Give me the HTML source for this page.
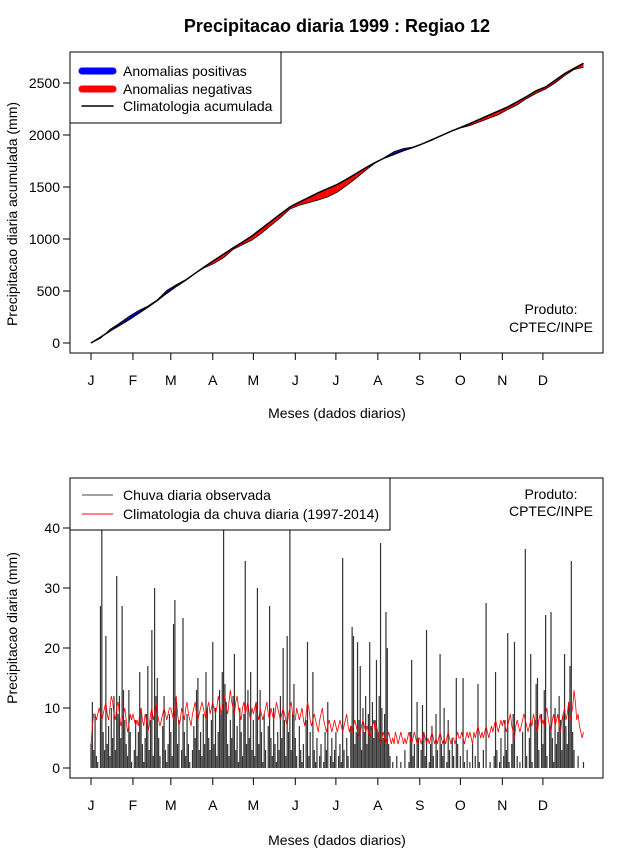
<!DOCTYPE html>
<html><head><meta charset="utf-8"><style>
html,body{margin:0;padding:0;background:#fff;}
svg{display:block;font-family:"Liberation Sans",Arial,sans-serif;}
</style></head><body>
<svg id="c" width="640" height="850" viewBox="0 0 640 850" xmlns="http://www.w3.org/2000/svg">
<rect x="0" y="0" width="640" height="850" fill="#fff"/>
<text x="337" y="32" text-anchor="middle" font-size="18" font-weight="bold">Precipitacao diaria 1999 : Regiao 12</text>
<g id="top"></g>
<g id="bot"></g>
</svg>
<script>
// ---- top panel data (cumulative, mm) ----
const cumDays = [0,7,14,21,28,35,42,49,56,63,70,77,84,91,98,105,112,119,126,133,140,147,154,161,168,175,182,189,196,203,210,217,224,231,238,245,252,259,266,273,280,287,294,301,308,315,322,329,336,343,350,357,364];
const climCum = [0,55,115,170,225,285,345,410,480,545,605,670,735,795,855,915,970,1030,1100,1170,1240,1308,1355,1400,1445,1485,1525,1575,1630,1685,1735,1780,1815,1850,1880,1915,1955,1995,2035,2072,2110,2150,2190,2230,2270,2320,2370,2425,2462,2525,2590,2640,2690];
const obsAnom = [0,-10,15,20,30,25,10,5,25,15,5,0,-10,-30,-35,-15,-25,-40,-45,-40,-35,-20,-30,-50,-70,-80,-75,-60,-45,-25,-5,5,25,20,5,0,-5,0,0,-5,-20,-25,-30,-35,-25,-30,-20,-25,-20,-25,-20,-10,-40];
const topTicks = [0,500,1000,1500,2000,2500];
const monthLabels = ["J","F","M","A","M","J","J","A","S","O","N","D"];
const monthStart = [0,31,59,90,120,151,181,212,243,273,304,334];
// ---- bottom panel data (daily, mm) ----
const obsDaily = [4,11,3,9,2,1,0,27,45,6,3,22,4,7,2,10,5,12,3,32,9,12,5,27,13,8,4,2,13,6,1,
0,3,8,2,6,16,10,4,1,5,9,17,3,8,23,2,30,12,15,5,2,0,7,12,3,1,4,9,
6,2,24,28,11,4,8,0,3,25,6,2,9,4,1,0,3,7,5,13,15,3,6,2,9,4,16,10,5,3,8,
21,4,10,2,6,13,9,16,45,14,11,4,2,8,5,12,19,3,7,1,10,6,2,9,34.5,4,13,5,16,3,
8,2,11,30,4,13,6,1,9,3,0,7,27,5,2,10,4,1,6,3,12,5,20,8,2,22,6,45,3,9,14,
5,2,0,7,3,1,4,0,8,21,2,6,0,16,3,1,5,0,2,4,0,1,6,3,11,0,2,5,1,3,
6,0,2,4,1,35,3,0,5,2,0,7,23.5,22,4,6,21,8,17,3,10,6,12,4,9,21,7,11,5,8,18,
6,12,37.5,10,5,9,26,20,4,2,0,1,0,0,2,0,0,1,0,0,3,0,0,1,6,18,2,4,0,11,5,
0,3,10.5,6,2,23,0,1,4,7,2,0,9,3,0,19,4,2,10,0,1,8,3,0,5,2,0,15,4,0,
2,0,15,1,0,3,0,1,0,4,0,2,0,14,1,0,0,3,0,27.5,0,0,1,0,0,2,16,3,0,1,5,
0,2,8,3,22.5,1,0,4,9,21,0,2,0,1,0,6,0,36.5,2,0,5,19,1,0,8,14,15,3,0,9,
4,13,25.5,2,0,7,26,5,1,10,4,6,12,8,3,9,19,7,4,11,17,34.5,6,3,0,0,2,0,0,0,1];
const climDaily = [4,7,9,9,8,9,10,9,8,9,10,11,9,8,10,12,11,9,8,10,11,9,7,8,9,10,8,6,7,9,8,
9,8,7,8,7,9,10,8,7,9,8,6,7,9,10,8,9,11,9,8,7,8,9,10,9,8,9,10,
10,9,8,10,12,9,7,8,10,9,8,10,11,9,8,7,9,10,11,9,8,9,10,11,10,9,8,10,11,9,10,
11,10,9,10,12,11,9,10,11,12,10,9,11,13,11,10,9,11,12,10,9,8,10,11,9,10,11,9,8,10,
9,10,11,9,8,10,9,8,9,10,11,9,8,10,9,8,9,11,10,9,8,9,10,9,8,7,9,10,11,9,8,
8,10,9,8,9,10,8,7,9,11,10,8,7,8,9,8,7,6,8,9,10,8,7,6,7,8,7,6,7,8,
7,6,7,8,7,6,7,8,9,7,6,7,6,7,8,7,6,5,6,7,8,7,6,7,6,5,6,7,8,6,7,
6,5,4,5,6,5,4,5,6,5,4,5,4,6,5,4,5,6,5,4,5,4,5,6,5,4,5,6,5,4,5,
5,4,5,6,5,4,5,4,5,6,5,4,5,4,5,6,5,4,5,4,5,6,5,4,5,5,4,5,6,5,
5,6,5,4,5,6,5,6,5,4,6,5,6,7,6,5,6,5,6,7,6,5,6,7,6,7,8,7,6,7,8,
7,8,7,6,7,8,9,7,6,5,7,8,7,6,7,8,9,8,7,6,7,8,7,9,8,7,6,8,9,7,
8,7,9,10,8,7,6,8,9,7,8,9,7,6,8,9,10,8,9,11,8,9,10,13,11,8,9,7,6,5,6];
const botTicks = [0,10,20,30,40];

const NS = "http://www.w3.org/2000/svg";
function mk(tag, attrs, parent, txt){const e=document.createElementNS(NS,tag);for(const k in attrs)e.setAttribute(k,attrs[k]);if(txt!==undefined)e.textContent=txt;parent.appendChild(e);return e;}
const xDay = d => 91 + d*1.353;
const yTop = v => 343 - v*0.104;
const yBot = v => 768 - v*6;

// ===== TOP =====
const T = document.getElementById('top');
let el;
el = mk('rect',{x:70,y:52,width:533,height:301,fill:'none',stroke:'#000','stroke-width':1},T);


const obsCum = climCum.map((c,i)=>c+obsAnom[i]);
for(let i=0;i<cumDays.length-1;i++){
  const a0=obsAnom[i], a1=obsAnom[i+1];
  const d0=cumDays[i], d1=cumDays[i+1];
  const segs=[];
  if(a0*a1<0){
    const t=a0/(a0-a1);
    const dm=d0+t*(d1-d0), cm=climCum[i]+t*(climCum[i+1]-climCum[i]);
    segs.push([[d0,climCum[i],obsCum[i]],[dm,cm,cm],a0]);
    segs.push([[dm,cm,cm],[d1,climCum[i+1],obsCum[i+1]],a1]);
  } else segs.push([[d0,climCum[i],obsCum[i]],[d1,climCum[i+1],obsCum[i+1]],a0+a1]);
  segs.forEach(s=>{
    if(s[2]===0) return;
    const p=[[xDay(s[0][0]),yTop(s[0][1])],[xDay(s[1][0]),yTop(s[1][1])],[xDay(s[1][0]),yTop(s[1][2])],[xDay(s[0][0]),yTop(s[0][2])]];
    el=mk('polygon',{points:p.map(q=>q.join(',')).join(' '),fill:s[2]>0?'#0000ff':'#ff0000',stroke:'none'},T);
    
    
  });
}
el=mk('polyline',{points:cumDays.map((d,i)=>xDay(d)+','+yTop(obsCum[i])).join(' '),fill:'none',stroke:'#000','stroke-width':0.8},T);


el=mk('polyline',{points:cumDays.map((d,i)=>xDay(d)+','+yTop(climCum[i])).join(' '),fill:'none',stroke:'#000','stroke-width':1.5},T);


topTicks.forEach(v=>{
  el=mk('line',{x1:63,x2:70,y1:yTop(v),y2:yTop(v),stroke:'#000'},T);
  
  
  el=mk('text',{x:60,y:yTop(v)+5,'text-anchor':'end','font-size':14},T,String(v));
  
  
});
el=mk('text',{x:17,y:214,'text-anchor':'middle','font-size':14,transform:'rotate(-90 17 214)'},T,'Precipitacao diaria acumulada (mm)');


monthStart.forEach((d,i)=>{
  el=mk('line',{x1:xDay(d),x2:xDay(d),y1:353,y2:360,stroke:'#000'},T);
  
  
  el=mk('text',{x:xDay(d),y:385,'text-anchor':'middle','font-size':14},T,monthLabels[i]);
  
  
});
el=mk('text',{x:337,y:418,'text-anchor':'middle','font-size':14},T,'Meses (dados diarios)');


el=mk('text',{x:551,y:314,'text-anchor':'middle','font-size':14},T,'Produto:');


el=mk('text',{x:551,y:332,'text-anchor':'middle','font-size':14},T,'CPTEC/INPE');


const LT=mk('g',{},T);


mk('rect',{x:70,y:52,width:211,height:71,fill:'#fff',stroke:'#000'},LT);
[['#0000ff',7,'Anomalias positivas',71],['#ff0000',7,'Anomalias negativas',89],['#000',1.5,'Climatologia acumulada',106]].forEach(e=>{
  el=mk('line',{x1:82,x2:113,y1:e[3],y2:e[3],stroke:e[0],'stroke-width':e[1],'stroke-linecap':'round'},LT);
  
  
  el=mk('text',{x:123,y:e[3]+5,'font-size':14},LT,e[2]);
  
  
});

// ===== BOTTOM =====
const B=document.getElementById('bot');
const clip=mk('clipPath',{id:'bclip'},B);
mk('rect',{x:70,y:478,width:533,height:300},clip);
const bars=mk('g',{'clip-path':'url(#bclip)'},B);


obsDaily.forEach((v,d)=>{
  el=mk('line',{x1:xDay(d),x2:xDay(d),y1:yBot(0),y2:yBot(v),stroke:'#333','stroke-width':1.2},bars);
  
  
});
el=mk('polyline',{points:climDaily.map((v,d)=>xDay(d)+','+yBot(v)).join(' '),fill:'none',stroke:'#ff0000','stroke-width':0.8},B);


el=mk('rect',{x:70,y:478,width:533,height:300,fill:'none',stroke:'#000'},B);


botTicks.forEach(v=>{
  el=mk('line',{x1:63,x2:70,y1:yBot(v),y2:yBot(v),stroke:'#000'},B);
  
  
  el=mk('text',{x:60,y:yBot(v)+5,'text-anchor':'end','font-size':14},B,String(v));
  
  
});
el=mk('text',{x:17,y:628,'text-anchor':'middle','font-size':14,transform:'rotate(-90 17 628)'},B,'Precipitacao diaria (mm)');


monthStart.forEach((d,i)=>{
  el=mk('line',{x1:xDay(d),x2:xDay(d),y1:778,y2:785,stroke:'#000'},B);
  
  
  el=mk('text',{x:xDay(d),y:810,'text-anchor':'middle','font-size':14},B,monthLabels[i]);
  
  
});
el=mk('text',{x:337,y:845,'text-anchor':'middle','font-size':14},B,'Meses (dados diarios)');


el=mk('text',{x:551,y:499,'text-anchor':'middle','font-size':14},B,'Produto:');


el=mk('text',{x:551,y:516,'text-anchor':'middle','font-size':14},B,'CPTEC/INPE');


const LB=mk('g',{},B);


mk('rect',{x:70,y:478,width:320,height:52,fill:'#fff',stroke:'#000'},LB);
[['#444','Chuva diaria observada',495],['#ff0000','Climatologia da chuva diaria (1997-2014)',514]].forEach(e=>{
  el=mk('line',{x1:82,x2:113,y1:e[2],y2:e[2],stroke:e[0],'stroke-width':1},LB);
  
  
  el=mk('text',{x:123,y:e[2]+5,'font-size':14},LB,e[1]);
  
  
});
</script>
</body></html>
